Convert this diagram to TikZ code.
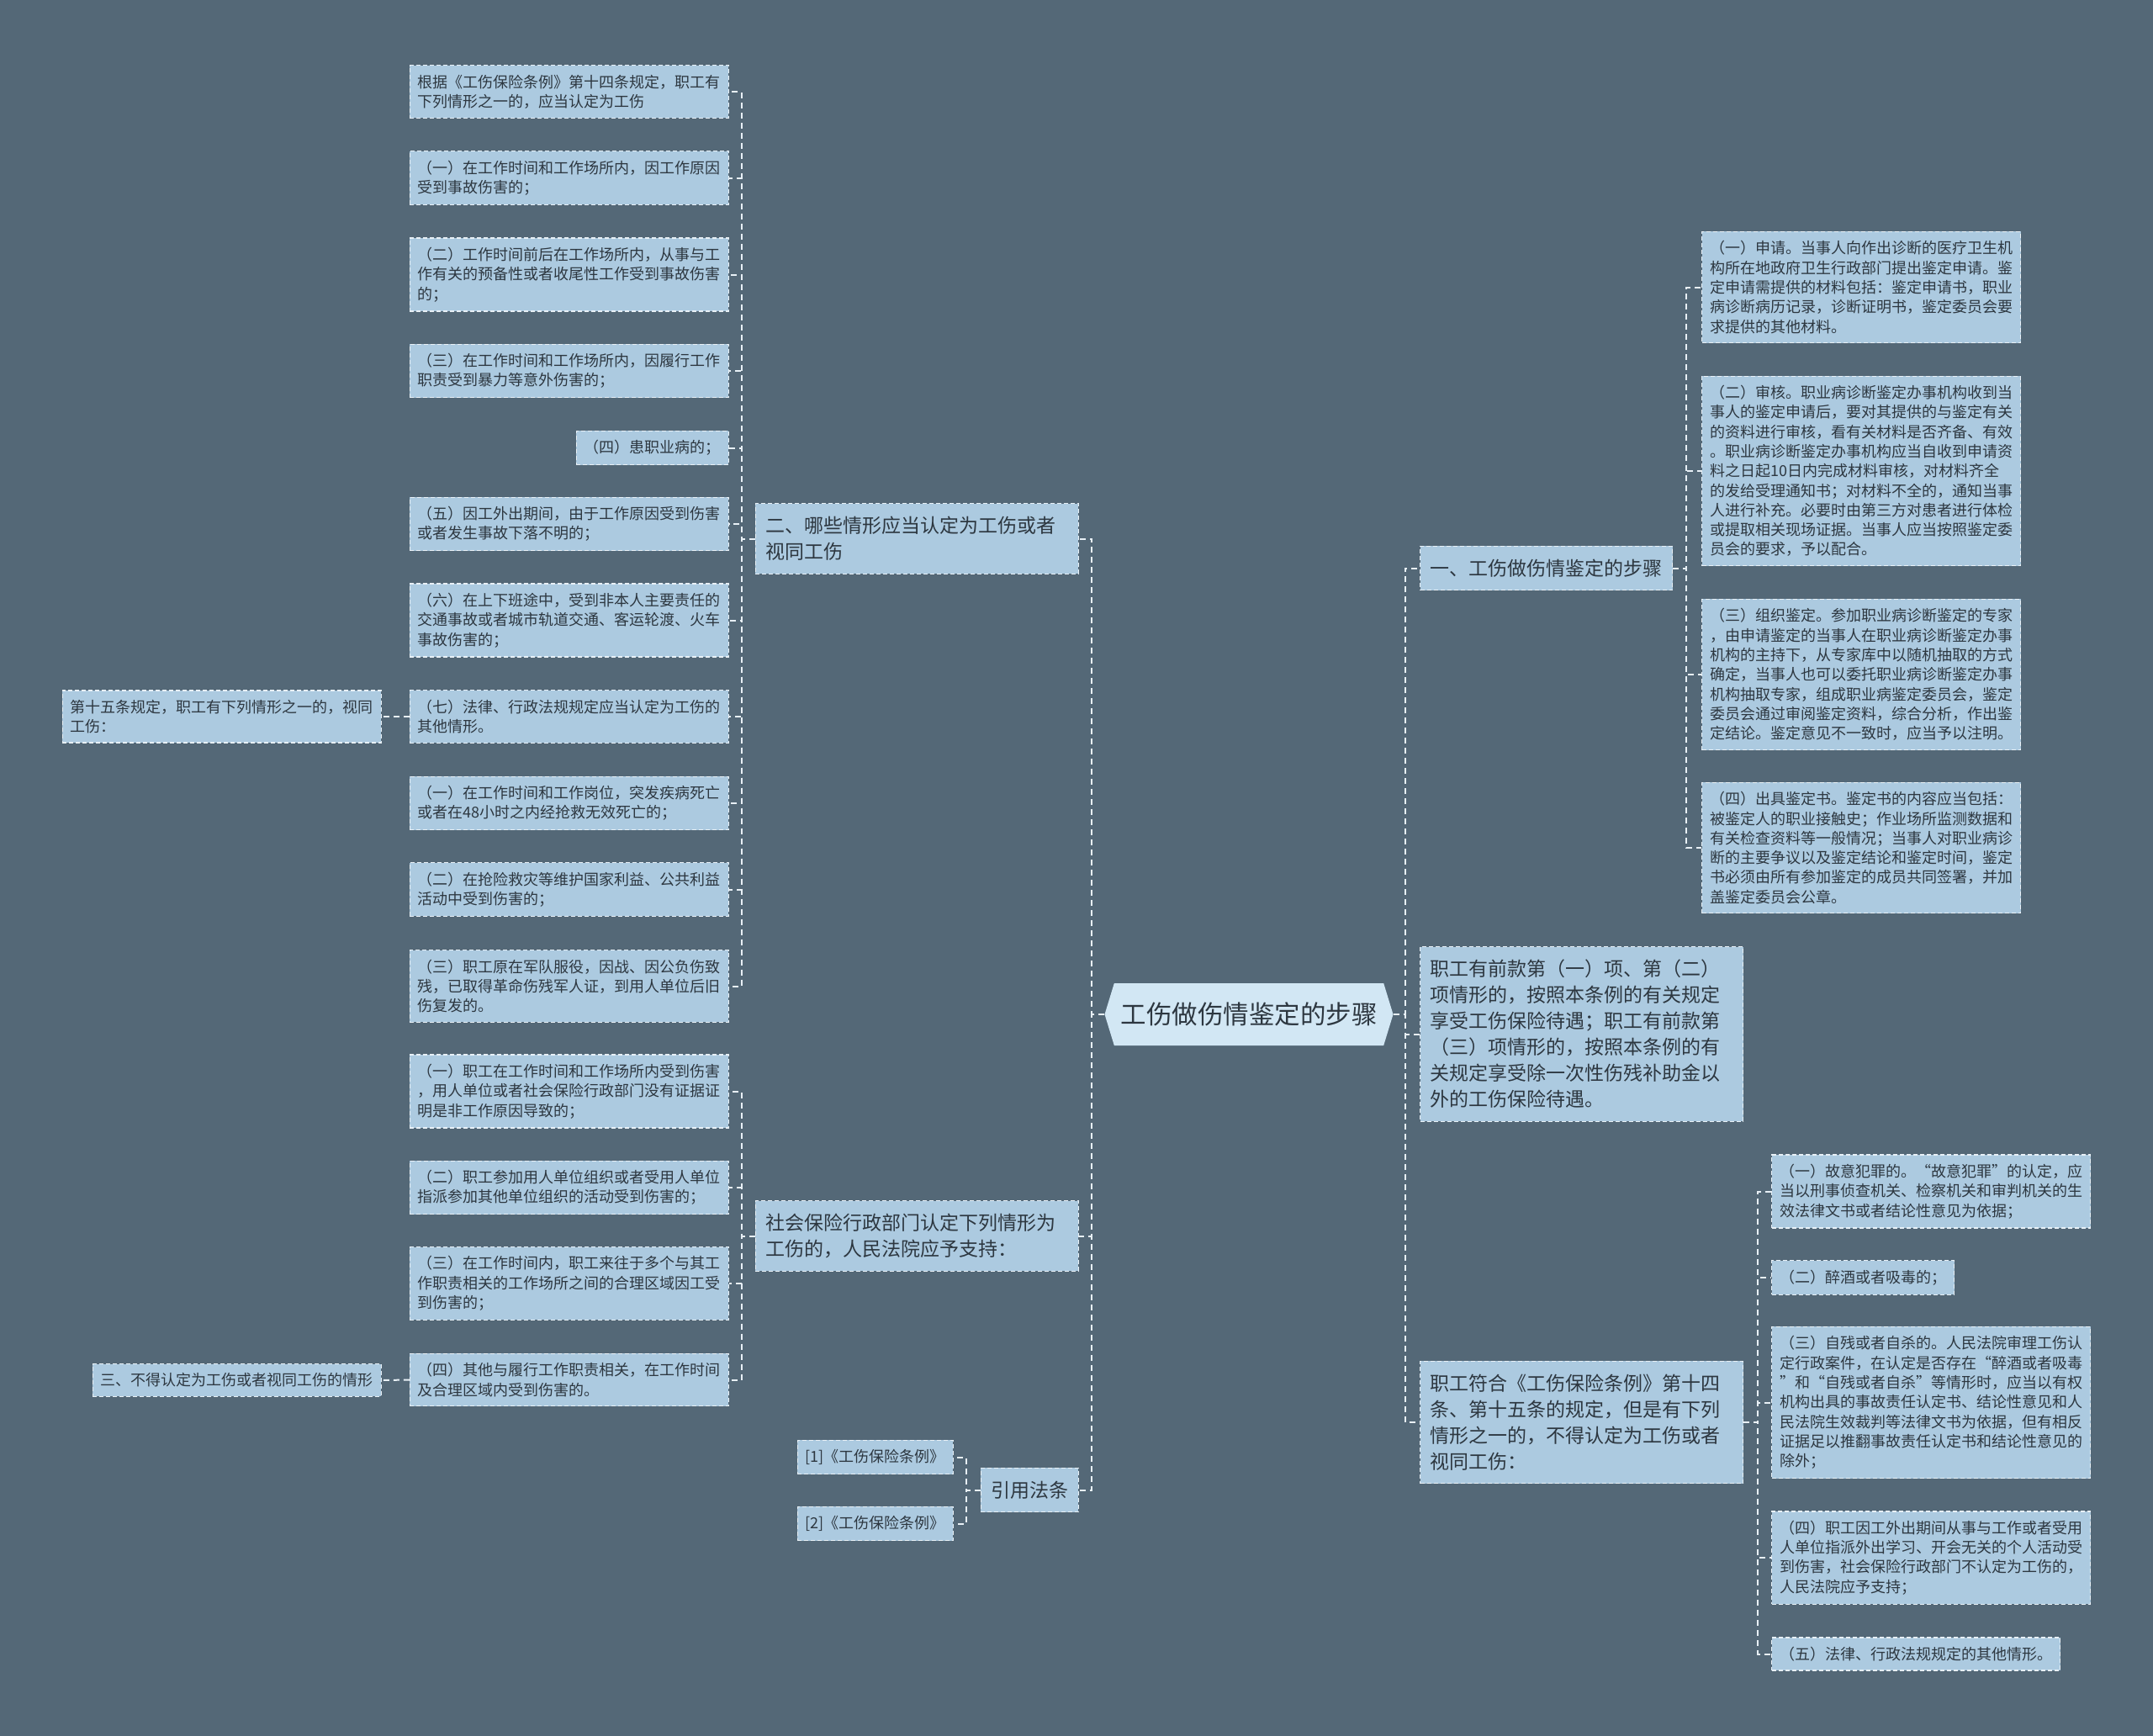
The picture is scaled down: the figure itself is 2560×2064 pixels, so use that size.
\documentclass[tikz,border=0pt]{standalone}
\usepackage{fontspec}
\setmainfont{Noto Sans CJK SC}
\usetikzlibrary{shapes.symbols}
\definecolor{bgslate}{RGB}{84,104,119}
\definecolor{boxblue}{RGB}{172,202,224}
\definecolor{rootblue}{RGB}{210,231,244}
\definecolor{inkgray}{RGB}{45,55,64}
\definecolor{linewhite}{RGB}{232,240,246}

\begin{document}
\begin{tikzpicture}[x=1pt, y=-1pt,
  box/.style={draw=linewhite, dash pattern=on 5pt off 3pt, line width=1.2pt,
    fill=boxblue, text=inkgray, inner ysep=11pt, inner xsep=9.5pt, align=left},
  leaf/.style={box, font=\fontsize{18}{23.3}\selectfont},
  wide/.style={leaf, text width=360pt},
  branch/.style={box, font=\fontsize{23}{31}\selectfont, inner xsep=12pt, inner ysep=15.5pt},
  link/.style={draw=linewhite, line width=2pt, dash pattern=on 7pt off 5pt}]
  \fill[bgslate] (0,0) rectangle (2560,2064);
  \useasboundingbox (0,0) rectangle (2560,2064);

  \node[shape=signal, signal to=west and east, signal pointer angle=146,
    fill=rootblue, text=inkgray, font=\fontsize{30.5}{36}\selectfont,
    minimum width=343pt, minimum height=74pt, inner xsep=4pt] (root) at (1485,1206) {工伤做伤情鉴定的步骤};

  % left side
  \node[branch, text width=360pt, anchor=east] (b2) at (1283,640.5) {二、哪些情形应当认定为工伤或者\\视同工伤};
  \node[wide, anchor=east] (l1) at (867,109) {根据《工伤保险条例》第十四条规定，职工有\\下列情形之一的，应当认定为工伤};
  \node[wide, anchor=east] (l2) at (867,211.5) {（一）在工作时间和工作场所内，因工作原因\\受到事故伤害的；};
  \node[wide, anchor=east] (l3) at (867,326.5) {（二）工作时间前后在工作场所内，从事与工\\作有关的预备性或者收尾性工作受到事故伤害\\的；};
  \node[wide, anchor=east] (l4) at (867,441) {（三）在工作时间和工作场所内，因履行工作\\职责受到暴力等意外伤害的；};
  \node[leaf, anchor=east] (l5) at (867,532.5) {（四）患职业病的；};
  \node[wide, anchor=east] (l6) at (867,623) {（五）因工外出期间，由于工作原因受到伤害\\或者发生事故下落不明的；};
  \node[wide, anchor=east] (l7) at (867,737.5) {（六）在上下班途中，受到非本人主要责任的\\交通事故或者城市轨道交通、客运轮渡、火车\\事故伤害的；};
  \node[wide, anchor=east] (l8) at (867,852) {（七）法律、行政法规规定应当认定为工伤的\\其他情形。};
  \node[wide, anchor=east] (f15) at (454,852) {第十五条规定，职工有下列情形之一的，视同\\工伤：};
  \node[wide, anchor=east] (l9) at (867,955) {（一）在工作时间和工作岗位，突发疾病死亡\\或者在48小时之内经抢救无效死亡的；};
  \node[wide, anchor=east] (l10) at (867,1057.5) {（二）在抢险救灾等维护国家利益、公共利益\\活动中受到伤害的；};
  \node[wide, anchor=east] (l11) at (867,1172.5) {（三）职工原在军队服役，因战、因公负伤致\\残，已取得革命伤残军人证，到用人单位后旧\\伤复发的。};

  \node[branch, text width=360pt, anchor=east] (b3) at (1283,1469.5) {社会保险行政部门认定下列情形为\\工伤的，人民法院应予支持：};
  \node[wide, anchor=east] (m1) at (867,1297.5) {（一）职工在工作时间和工作场所内受到伤害\\，用人单位或者社会保险行政部门没有证据证\\明是非工作原因导致的；};
  \node[wide, anchor=east] (m2) at (867,1412) {（二）职工参加用人单位组织或者受用人单位\\指派参加其他单位组织的活动受到伤害的；};
  \node[wide, anchor=east] (m3) at (867,1526) {（三）在工作时间内，职工来往于多个与其工\\作职责相关的工作场所之间的合理区域因工受\\到伤害的；};
  \node[wide, anchor=east] (m4) at (867,1640.5) {（四）其他与履行工作职责相关，在工作时间\\及合理区域内受到伤害的。};
  \node[leaf, anchor=east] (n3) at (454,1641) {三、不得认定为工伤或者视同工伤的情形};

  \node[branch, anchor=east] (b4) at (1283,1771.5) {引用法条};
  \node[leaf, anchor=east] (r1) at (1134,1732.5) {[1]《工伤保险条例》};
  \node[leaf, anchor=east] (r2) at (1134,1811.5) {[2]《工伤保险条例》};

  % right side
  \node[branch, anchor=west] (b1) at (1688,675.5) {一、工伤做伤情鉴定的步骤};
  \node[wide, anchor=west] (s1) at (2023,341.5) {（一）申请。当事人向作出诊断的医疗卫生机\\构所在地政府卫生行政部门提出鉴定申请。鉴\\定申请需提供的材料包括：鉴定申请书，职业\\病诊断病历记录，诊断证明书，鉴定委员会要\\求提供的其他材料。};
  \node[wide, anchor=west] (s2) at (2023,560) {（二）审核。职业病诊断鉴定办事机构收到当\\事人的鉴定申请后，要对其提供的与鉴定有关\\的资料进行审核，看有关材料是否齐备、有效\\。职业病诊断鉴定办事机构应当自收到申请资\\料之日起10日内完成材料审核，对材料齐全\\的发给受理通知书；对材料不全的，通知当事\\人进行补充。必要时由第三方对患者进行体检\\或提取相关现场证据。当事人应当按照鉴定委\\员会的要求，予以配合。};
  \node[wide, anchor=west] (s3) at (2023,802) {（三）组织鉴定。参加职业病诊断鉴定的专家\\，由申请鉴定的当事人在职业病诊断鉴定办事\\机构的主持下，从专家库中以随机抽取的方式\\确定，当事人也可以委托职业病诊断鉴定办事\\机构抽取专家，组成职业病鉴定委员会，鉴定\\委员会通过审阅鉴定资料，综合分析，作出鉴\\定结论。鉴定意见不一致时，应当予以注明。};
  \node[wide, anchor=west] (s4) at (2023,1008) {（四）出具鉴定书。鉴定书的内容应当包括：\\被鉴定人的职业接触史；作业场所监测数据和\\有关检查资料等一般情况；当事人对职业病诊\\断的主要争议以及鉴定结论和鉴定时间，鉴定\\书必须由所有参加鉴定的成员共同签署，并加\\盖鉴定委员会公章。};

  \node[branch, text width=360pt, anchor=west] (b5) at (1688,1229.5) {职工有前款第（一）项、第（二）\\项情形的，按照本条例的有关规定\\享受工伤保险待遇；职工有前款第\\（三）项情形的，按照本条例的有\\关规定享受除一次性伤残补助金以\\外的工伤保险待遇。};

  \node[branch, text width=360pt, anchor=west] (b6) at (1688,1691) {职工符合《工伤保险条例》第十四\\条、第十五条的规定，但是有下列\\情形之一的，不得认定为工伤或者\\视同工伤：};
  \node[wide, anchor=west] (t1) at (2106,1416.5) {（一）故意犯罪的。“故意犯罪”的认定，应\\当以刑事侦查机关、检察机关和审判机关的生\\效法律文书或者结论性意见为依据；};
  \node[leaf, anchor=west] (t2) at (2106,1519) {（二）醉酒或者吸毒的；};
  \node[wide, anchor=west] (t3) at (2106,1667.5) {（三）自残或者自杀的。人民法院审理工伤认\\定行政案件，在认定是否存在“醉酒或者吸毒\\”和“自残或者自杀”等情形时，应当以有权\\机构出具的事故责任认定书、结论性意见和人\\民法院生效裁判等法律文书为依据，但有相反\\证据足以推翻事故责任认定书和结论性意见的\\除外；};
  \node[wide, anchor=west] (t4) at (2106,1852) {（四）职工因工外出期间从事与工作或者受用\\人单位指派外出学习、开会无关的个人活动受\\到伤害，社会保险行政部门不认定为工伤的，\\人民法院应予支持；};
  \node[leaf, anchor=west] (t5) at (2106,1966.5) {（五）法律、行政法规规定的其他情形。};

  % connectors
  \foreach \c in {b2,b3,b4}
    \draw[link] (root.west) -- ++(-15,0) |- (\c.east);
  \foreach \c in {l1,l2,l3,l4,l5,l6,l7,l8,l9,l10,l11}
    \draw[link] (b2.west) -- ++(-16,0) |- (\c.east);
  \draw[link] (l8.west) -- (f15.east);
  \foreach \c in {m1,m2,m3,m4}
    \draw[link] (b3.west) -- ++(-16,0) |- (\c.east);
  \draw[link] (m4.west) -- (n3.east);
  \foreach \c in {r1,r2}
    \draw[link] (b4.west) -- ++(-17,0) |- (\c.east);
  \foreach \c in {b1,b5,b6}
    \draw[link] (root.east) -- ++(14,0) |- (\c.west);
  \foreach \c in {s1,s2,s3,s4}
    \draw[link] (b1.east) -- ++(16,0) |- (\c.west);
  \foreach \c in {t1,t2,t3,t4,t5}
    \draw[link] (b6.east) -- ++(17,0) |- (\c.west);
\end{tikzpicture}
\end{document}
